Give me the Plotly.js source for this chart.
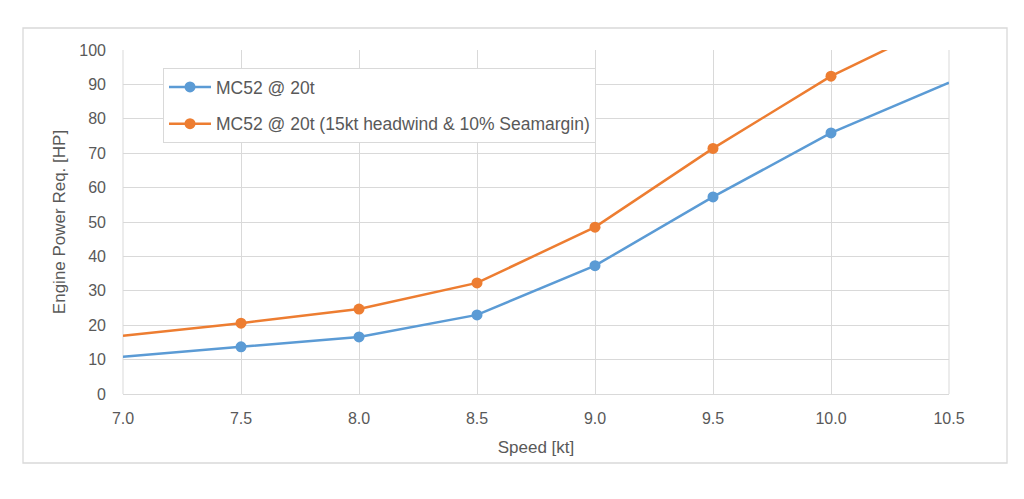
<!DOCTYPE html>
<html>
<head>
<meta charset="utf-8">
<script src="https://cdn.plot.ly/plotly-3.0.1.min.js"></script>
<style>html,body{margin:0;padding:0;background:#fff;}#chart{width:1024px;height:499px;}</style>
</head>
<body>
<div id="chart"></div>
<script>
const speed = [7.0, 7.5, 8.0, 8.5, 9.0, 9.5, 10.0, 10.5];
const power20t = [10.8, 13.7, 16.6, 23.0, 37.3, 57.3, 75.9, 90.5];
const powerHeadwind = [16.9, 20.6, 24.7, 32.3, 48.5, 71.4, 92.4, 109.0];
// data points that carry a visible marker (the first and last are line ends only)
const markedFrom = 1, markedTo = 7;
const xTicks = [7.0, 7.5, 8.0, 8.5, 9.0, 9.5, 10.0, 10.5];
const xTickLabels = ['7.0', '7.5', '8.0', '8.5', '9.0', '9.5', '10.0', '10.5'];
const seriesNames = ['MC52 @ 20t', 'MC52 @ 20t (15kt headwind & 10% Seamargin)'];

const font = "'Liberation Sans', Arial, sans-serif";
const grey = '#595959';
const gridc = '#d9d9d9';
const colors = ['#5b9bd5', '#ed7d31'];
const series = [power20t, powerHeadwind];

const traces = [];
series.forEach((ys, i) => {
  // only the unmarked end segments; the marked part is drawn by the legend trace
  const n = speed.length;
  const ex = [speed[0], speed[markedFrom], null, speed[markedTo - 1], speed[n - 1]];
  const ey = [ys[0], ys[markedFrom], null, ys[markedTo - 1], ys[n - 1]];
  traces.push({x: ex, y: ey, mode: 'lines', showlegend: false, hoverinfo: 'skip',
    connectgaps: false, line: {color: colors[i], width: 2.5}});
});
series.forEach((ys, i) => {
  traces.push({x: speed.slice(markedFrom, markedTo), y: ys.slice(markedFrom, markedTo),
    name: seriesNames[i], mode: 'lines+markers', legendgroup: 'g' + i,
    line: {color: colors[i], width: 2.5}, marker: {color: colors[i], size: 11}});
});

const W = 826, H = 344;
const layout = {
  width: 1024, height: 499,
  margin: {l: 123, r: 75, t: 50, b: 105},
  paper_bgcolor: '#fff', plot_bgcolor: '#fff',
  font: {family: font, color: grey, size: 16},
  showlegend: true,
  legend: {
    x: (163 - 123) / W, y: (394 - 68) / H, xanchor: 'left', yanchor: 'top',
    bgcolor: '#fff', bordercolor: gridc, borderwidth: 1,
    font: {family: font, size: 17.5, color: grey},
    traceorder: 'grouped', tracegroupgap: 11, itemwidth: 42
  },
  xaxis: {
    range: [7.0, 10.5], tickvals: xTicks, ticktext: xTickLabels,
    showgrid: true, gridcolor: gridc, gridwidth: 1,
    showline: true, linecolor: gridc, linewidth: 1,
    ticks: '', zeroline: false, ticklabelstandoff: 10,
    tickfont: {size: 16, family: font, color: grey},
    title: {text: 'Speed [kt]', font: {size: 17, family: font, color: grey}, standoff: 14}
  },
  yaxis: {
    range: [0, 100], dtick: 10,
    showgrid: true, gridcolor: gridc, gridwidth: 1,
    showline: false, ticks: '', zeroline: false, ticklabelstandoff: 16,
    tickfont: {size: 16, family: font, color: grey},
    title: {text: 'Engine Power Req. [HP]', font: {size: 17, family: font, color: grey}, standoff: 9}
  },
  shapes: [
    {type: 'rect', xref: 'paper', yref: 'paper',
     x0: (23 - 123) / W, x1: (1007 - 123) / W, y0: (394 - 463) / H, y1: (394 - 28) / H,
     line: {color: gridc, width: 1.3}, fillcolor: 'rgba(0,0,0,0)', layer: 'below'},
    {type: 'line', xref: 'paper', yref: 'paper', x0: 1, x1: 1, y0: 0, y1: 1,
     line: {color: gridc, width: 1}, layer: 'below'},
    {type: 'line', xref: 'paper', yref: 'paper', x0: 0, x1: 0, y0: 0, y1: 1,
     line: {color: gridc, width: 1}, layer: 'below'}
  ]
};

Plotly.newPlot('chart', traces, layout, {displayModeBar: false, staticPlot: true});
</script>
</body>
</html>
